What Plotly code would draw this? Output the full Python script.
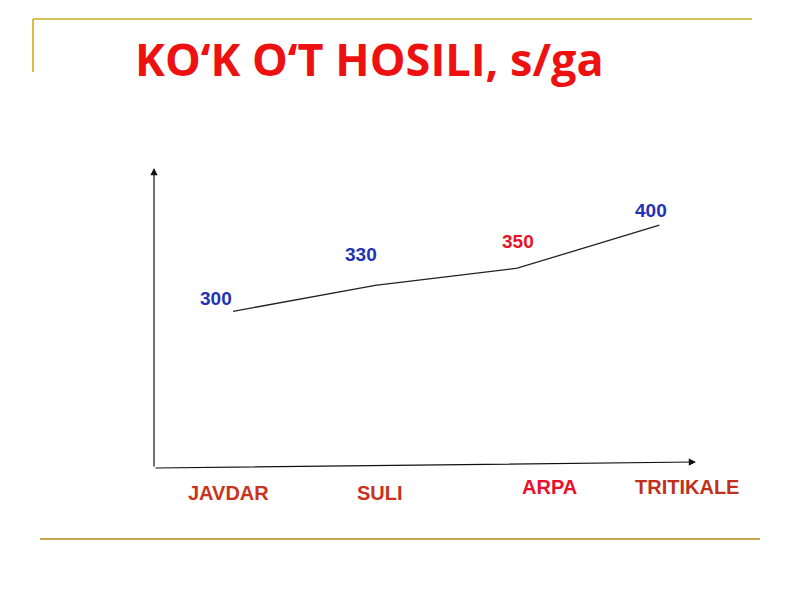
import plotly.graph_objects as go

categories = ["JAVDAR", "SULI", "ARPA", "TRITIKALE"]
values = [300, 330, 350, 400]
value_labels = ["300", "330", "350", "400"]
value_colors = ["#2232B4", "#2232B4", "#EA1228", "#2232B4"]
cat_colors = ["#C8331E", "#C8331E", "#E8102C", "#C0301C"]
title_text = "KO‘K O‘T HOSILI, s/ga"

W, H = 800, 600
OFF = 8  # page margin offset of the browser


def px(x):
    return (x - OFF) / W


def py(y):
    return 1 - (y - OFF) / H


xidx = list(range(len(categories)))

# axis calibration (pixels of the reference slide)
X0, X1 = 154, 696          # x-axis extent
Y_TOP, Y_BOT = 168, 468    # y-axis extent
x_center, x_step = 446.25, 142.1
y_center, y_step = 272.5, 0.862
x_min = 1.5 + (X0 - x_center) / x_step
x_max = 1.5 + (X1 - x_center) / x_step
y_min = 345 - (Y_BOT - y_center) / y_step
y_max = 345 + (y_center - Y_TOP) / y_step

fig = go.Figure()
fig.add_trace(go.Scatter(
    x=xidx, y=values, mode="lines",
    line=dict(color="#222222", width=1.3),
    hoverinfo="skip", showlegend=False,
))

# value labels above points
val_shift = [(-17, 13), (-14, 31), (1, 27), (-8, 15)]
for i, (v, t, c) in enumerate(zip(values, value_labels, value_colors)):
    fig.add_annotation(x=xidx[i], y=v, xref="x", yref="y", text="<b>%s</b>" % t,
                       showarrow=False, xshift=val_shift[i][0], yshift=val_shift[i][1],
                       xanchor="center", yanchor="middle",
                       font=dict(family="Liberation Sans, Arial", size=19, color=c))

# category labels below axis
cat_shift = [(-5, 0), (5, 0), (32, 6), (28, 6)]
for i, (cname, c) in enumerate(zip(categories, cat_colors)):
    fig.add_annotation(x=xidx[i], y=py(493), xref="x", yref="paper", text="<b>%s</b>" % cname,
                       showarrow=False, xshift=cat_shift[i][0], yshift=cat_shift[i][1],
                       xanchor="center", yanchor="middle",
                       font=dict(family="Liberation Sans, Arial", size=20, color=c))

# axes arrows
fig.add_annotation(x=px(X1), y=py(462), xref="paper", yref="paper", ax=-(X1 - X0), ay=6,
                   showarrow=True, arrowhead=2, arrowsize=1.2, arrowwidth=1.2,
                   arrowcolor="#111111", text="")
fig.add_annotation(x=px(X0), y=py(Y_TOP), xref="paper", yref="paper", ax=0, ay=Y_BOT - Y_TOP,
                   showarrow=True, arrowhead=2, arrowsize=1.2, arrowwidth=1.2,
                   arrowcolor="#111111", text="")

# title
fig.add_annotation(x=px(369), y=py(58), xref="paper", yref="paper", text="<b>%s</b>" % title_text,
                   showarrow=False, xanchor="center", yanchor="middle",
                   font=dict(family="Open Sans", size=45, color="#EE1111"))

# decorative slide lines
fig.add_shape(type="line", xref="paper", yref="paper", x0=px(33), x1=px(752),
              y0=py(19), y1=py(19), line=dict(color="#D2C25A", width=2))
fig.add_shape(type="line", xref="paper", yref="paper", x0=px(33), x1=px(33),
              y0=py(19), y1=py(72), line=dict(color="#D8C040", width=2))
fig.add_shape(type="line", xref="paper", yref="paper", x0=px(40), x1=px(760),
              y0=py(539), y1=py(539), line=dict(color="#C9A550", width=2))

fig.update_layout(
    width=W, height=H,
    margin=dict(l=0, r=0, t=0, b=0),
    paper_bgcolor="white", plot_bgcolor="white",
    xaxis=dict(domain=[px(X0), px(X1)], range=[x_min, x_max], visible=False),
    yaxis=dict(domain=[py(Y_BOT), py(Y_TOP)], range=[y_min, y_max], visible=False),
    showlegend=False,
)

fig.write_html("out.html")
